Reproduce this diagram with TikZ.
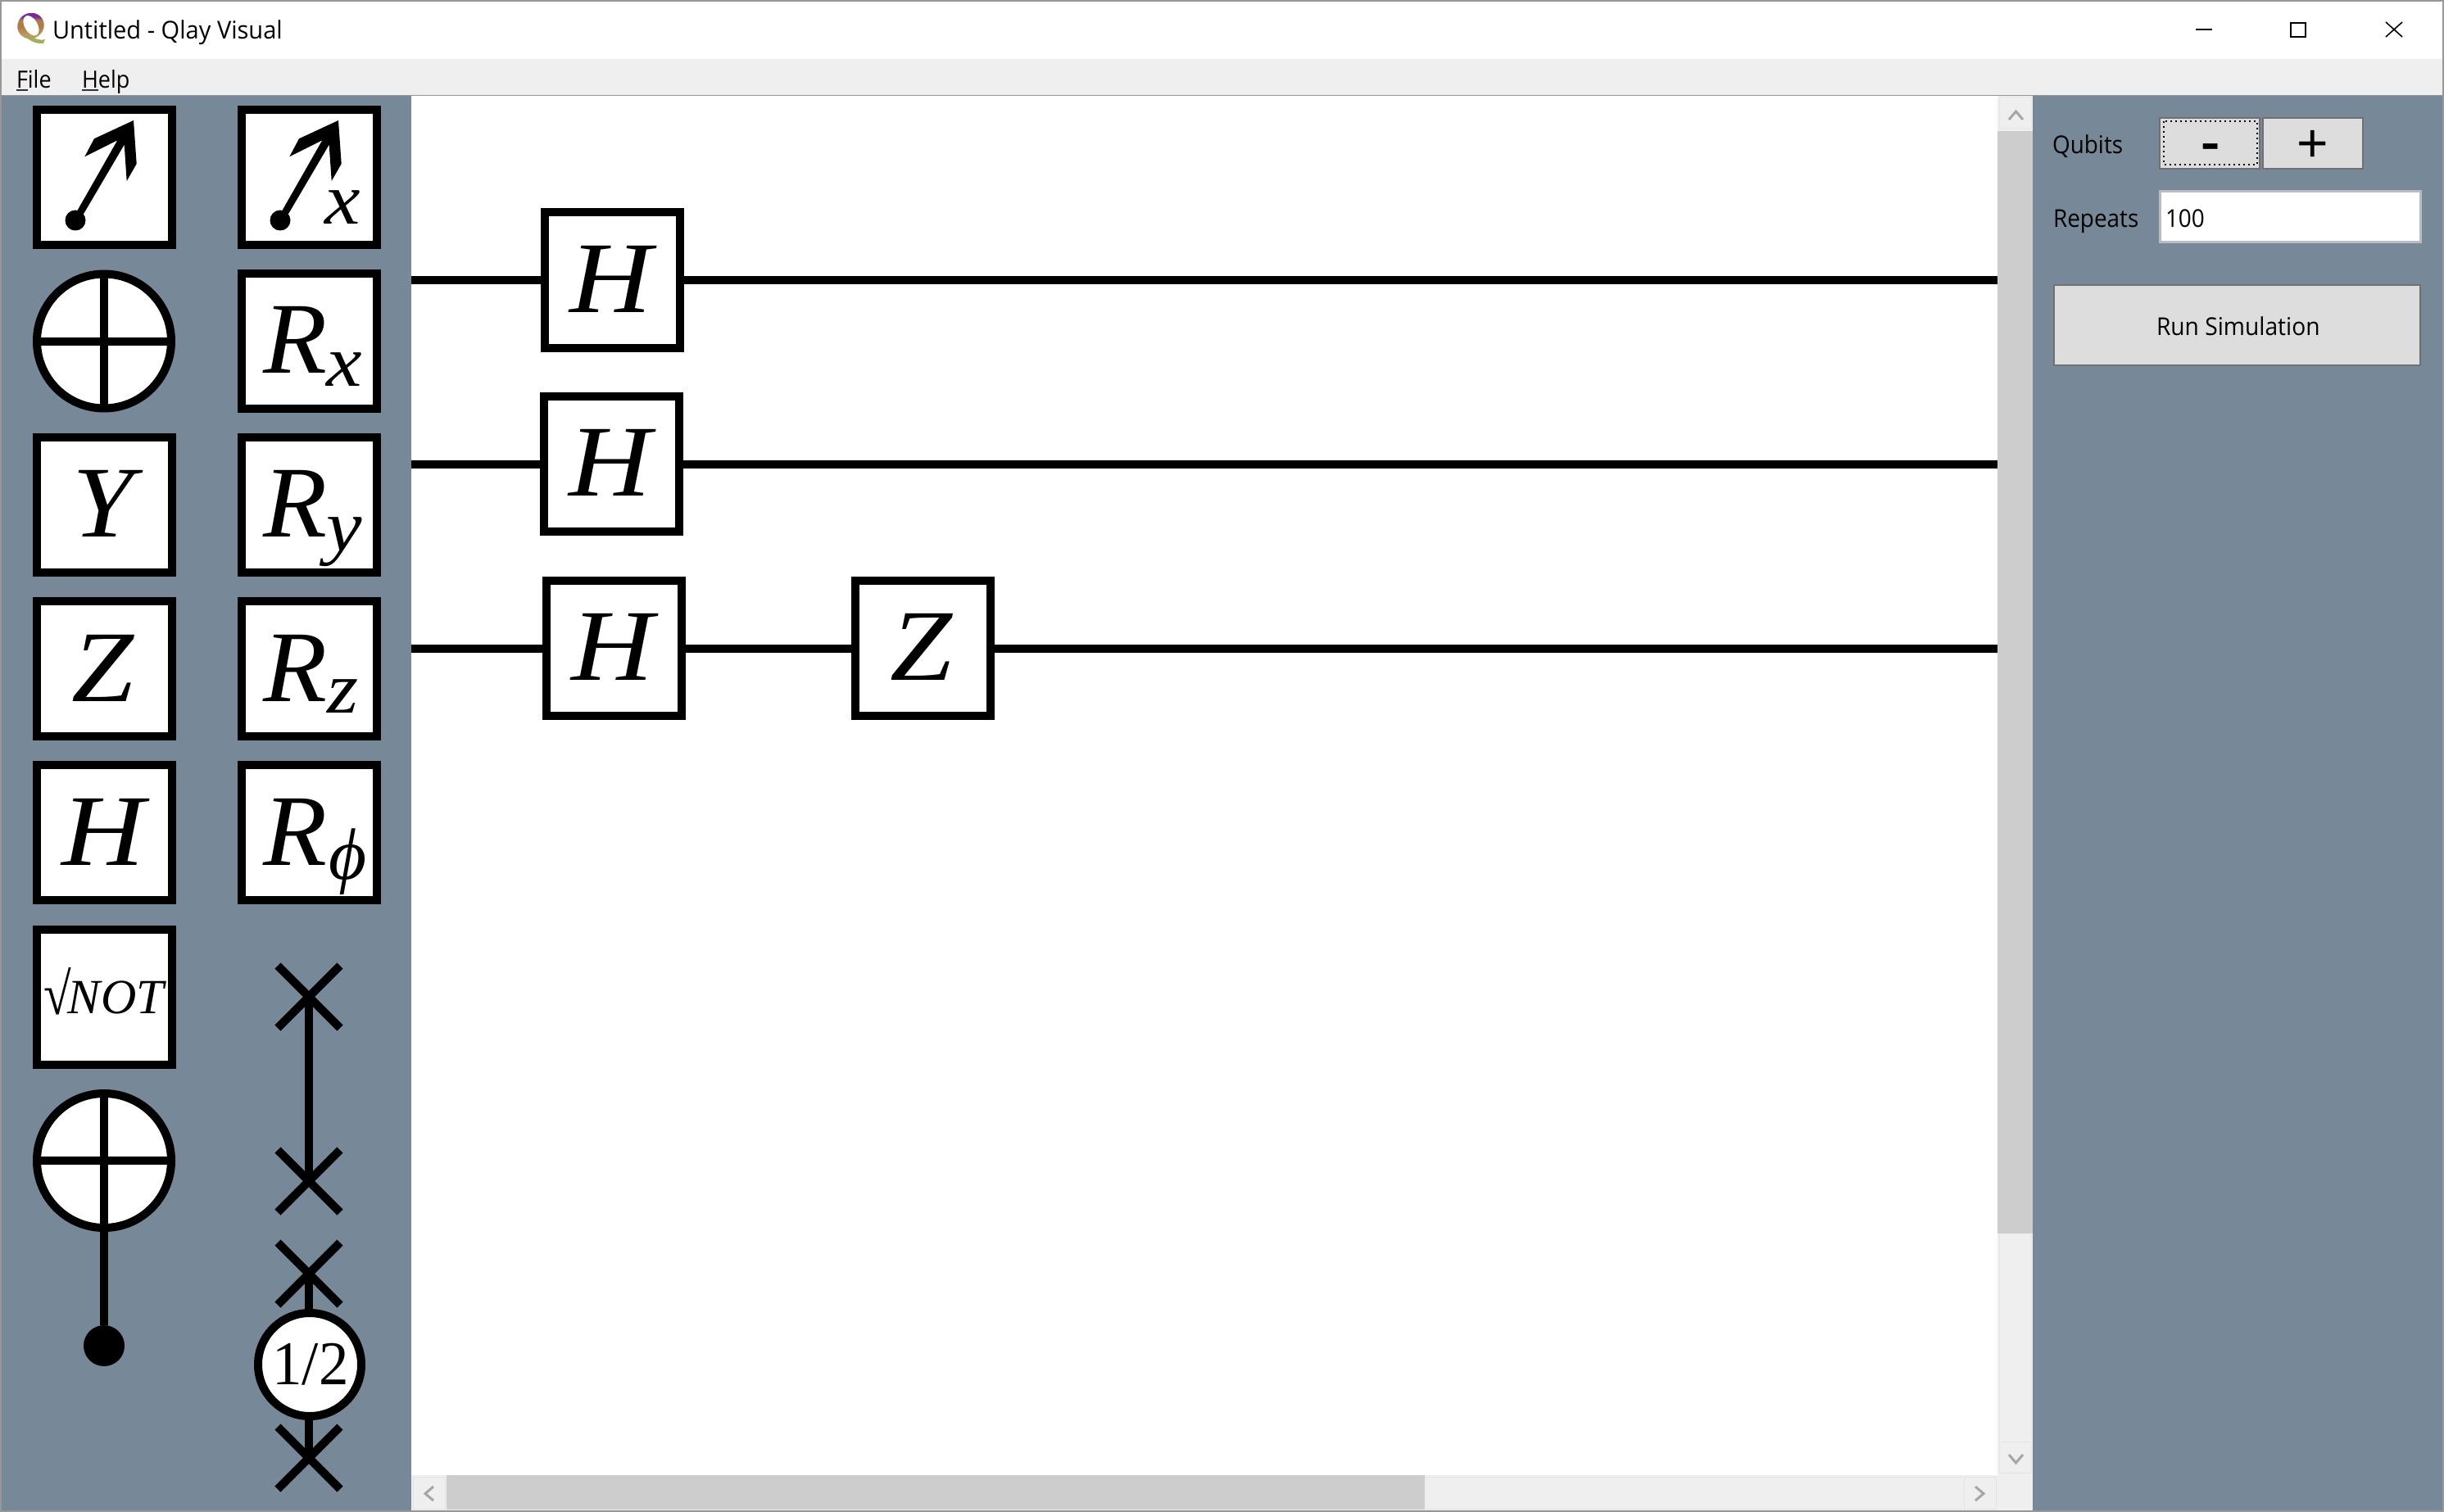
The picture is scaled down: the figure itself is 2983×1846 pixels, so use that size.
\documentclass[tikz,border=0pt]{standalone}
\usepackage{fontspec}
\setmainfont{Liberation Serif}
\newfontfamily\uifont{Open Sans}
\newfontfamily\symfont{Liberation Sans}
\definecolor{panel}{HTML}{778899}
\definecolor{menubar}{HTML}{EFEFEF}
\definecolor{winborder}{HTML}{979797}
\definecolor{thumb}{HTML}{CDCDCD}
\definecolor{sbline}{HTML}{E4E4E4}
\definecolor{sbarrow}{HTML}{A6A6A6}
\definecolor{btn}{HTML}{DDDDDD}
\definecolor{btnline}{HTML}{707070}
\definecolor{editline}{HTML}{B8BCC4}
\definecolor{qa}{HTML}{A0B060}
\definecolor{qb}{HTML}{B89A60}
\definecolor{qc}{HTML}{B07A45}
\definecolor{qd}{HTML}{A88050}
\definecolor{qe}{HTML}{7A2A95}
\pgfdeclareverticalshading{qgrad}{100bp}{
 color(0bp)=(qa); color(36bp)=(qb); color(50bp)=(qc);
 color(62bp)=(qd); color(68bp)=(qe); color(100bp)=(qe)}
\tikzset{
 x=0.5pt,y=-0.5pt,
 gatebox/.style={draw=black,fill=white,line width=5pt,rectangle,inner sep=0pt,outer sep=0pt,minimum size=82.5pt},
 roundgate/.style={draw=black,fill=white,line width=5pt,circle,inner sep=0pt,outer sep=0pt,minimum size=82pt},
 gatetext/.style={inner sep=0pt,outer sep=0pt,anchor=base,font=\fontsize{62pt}{62pt}\selectfont\itshape},
 rtext/.style={gatetext,anchor=base west,xscale=1.03},
 subtext/.style={inner sep=0pt,outer sep=0pt,anchor=base west,xscale=1.1,font=\fontsize{44.5pt}{44.5pt}\selectfont\itshape},
 wire/.style={draw=black,line width=5pt},
 uitext/.style={inner sep=0pt,outer sep=0pt,anchor=base west,font=\fontsize{15pt}{15pt}\selectfont\uifont,xscale=0.93},
 menutext/.style={uitext,font=\fontsize{14.5pt}{14.5pt}\selectfont\uifont},
 winbtn/.style={draw=black,line width=1pt},
 uibutton/.style={draw=btnline,fill=btn,line width=1pt},
 sbbutton/.style={draw=sbline,fill=menubar,line width=0.5pt},
 chevron/.style={draw=sbarrow,line width=1.5pt},
 swapx/.style={draw=black,line width=5pt},
}
\newcommand{\measglyph}[1]{%
 \fill[black] (#1+163,147) -- (#1+166.7,200) -- (#1+154.7,221) -- (#1+151.7,176.7) -- (#1+101.7,261.7)
  -- (#1+94.3,257.3) -- (#1+143.3,171.3) -- (#1+103.3,191.3) -- (#1+115,169.3) -- cycle;
 \fill[black] (#1+92,269) circle (12.5);}
\newcommand{\crossat}[2]{%
 \draw[swapx] (#1-38,#2-38) -- (#1+38,#2+38) (#1-38,#2+38) -- (#1+38,#2-38);}
\begin{document}
\begin{tikzpicture}
\useasboundingbox (0,0) rectangle (2983,1846);
% window
\fill[winborder] (0,0) rectangle (2983,1846);
\fill[white] (2,2) rectangle (2981,72);
\fill[menubar] (2,72) rectangle (2981,116);
\fill[panel] (2,117) rectangle (502,1844);
\fill[panel] (2481,117) rectangle (2981,1844);
\fill[white] (502,117) rectangle (2438,1801);
\fill[menubar] (502,1801) rectangle (2481,1844);
\fill[menubar] (2438,117) rectangle (2481,1844);
% logo
\fill[qa] (28,44) .. controls (35,47) and (40,54) .. (53,53) -- (55,48) .. controls (47,50) and (43,47) .. (39,44) -- cycle;
\shade[shading=qgrad,even odd rule,rotate around={30:(37.5,31.5)}]
  (37.5,31.5) ellipse [x radius=16.5,y radius=15.5]
  (38,31.5) ellipse [x radius=8,y radius=13.5];
% title and menu
\node[uitext,xscale=1.041] (title) at (64,48) {Untitled - Qlay Visual};
\node[menutext] (mfile) at (20,108) {File};
\node[menutext] (mhelp) at (100,108) {Help};
\draw[black!80,line width=1pt] (20,110.5) -- (34,110.5) (100,110.5) -- (120,110.5);
% window controls
\draw[winbtn] (2680,36) -- (2700,36);
\draw[winbtn] (2796,28) rectangle (2814,45);
\draw[black,line width=0.8pt] (2912,27) -- (2932,45) (2912,45) -- (2932,27);
% scrollbars
\fill[thumb] (2438,160) rectangle (2481,1506);
\draw[sbbutton] (2440,119) rectangle (2479,157);
\draw[chevron] (2452,146) -- (2460.5,136) -- (2469,146);
\draw[sbline,line width=0.5pt] (2440,1506) -- (2440,1758) (2479,1506) -- (2479,1758);
\draw[sbbutton] (2440,1760) rectangle (2479,1798);
\draw[chevron] (2452,1776) -- (2460.5,1786) -- (2469,1776);
\draw[sbbutton] (504,1803) rectangle (543,1842);
\draw[chevron] (529,1815) -- (519,1823.5) -- (529,1832);
\fill[thumb] (545,1801) rectangle (1739,1843);
\draw[sbline,line width=0.5pt] (1739,1803) -- (2395,1803) (1739,1842) -- (2395,1842);
\draw[sbbutton] (2397,1803) rectangle (2436,1842);
\draw[chevron] (2411,1815) -- (2421,1823.5) -- (2411,1832);
% wires
\coordinate (w1l) at (502,342); \coordinate (w1r) at (2438,342);
\coordinate (w2l) at (502,566.5); \coordinate (w2r) at (2438,566.5);
\coordinate (w3l) at (502,791.5); \coordinate (w3r) at (2438,791.5);
\node[gatebox] (h1) at (747,342) {};
\node[gatebox] (h2) at (746,566.5) {};
\node[gatebox] (h3) at (749,791.5) {};
\node[gatebox] (z3) at (1126,791.5) {};
\draw[wire] (w1l) -- (h1) (h1) -- (w1r);
\draw[wire] (w2l) -- (h2) (h2) -- (w2r);
\draw[wire] (w3l) -- (h3) (h3) -- (z3) (z3) -- (w3r);
\node[gatetext,xscale=1.12] (th1) at (746,381) {H};
\node[gatetext,xscale=1.12] (th2) at (745,605.5) {H};
\node[gatetext,xscale=1.12] (th3) at (748,830.5) {H};
\node[gatetext,xscale=1.1] (tz3) at (1124,830.5) {Z};
% palette column 1
\node[gatebox] (meas) at (127,216.5) {};
\measglyph{0}
\node[roundgate] (xgate) at (127,416.5) {};
\draw[wire] (xgate.north) -- (xgate.south) (xgate.west) -- (xgate.east);
\node[gatebox] (ygate) at (127,616.5) {};
\node[gatetext,xscale=1.08] (ty) at (126,655) {Y};
\node[gatebox] (zgate) at (127,816.5) {};
\node[gatetext,xscale=1.1] (tz) at (125,856) {Z};
\node[gatebox] (hgate) at (127,1016.5) {};
\node[gatetext,xscale=1.13] (th) at (126,1056) {H};
\node[gatebox] (sqnot) at (127,1217) {};
\node[inner sep=0pt,outer sep=0pt,anchor=base west,xscale=0.85,font=\fontsize{36pt}{36pt}\selectfont] (troot) at (54,1238) {√};
\node[inner sep=0pt,outer sep=0pt,anchor=base west,font=\fontsize{30pt}{30pt}\selectfont\itshape] (tnot) at (83,1237) {NOT};
\node[roundgate] (cnot) at (127,1417) {};
\node[circle,fill=black,inner sep=0pt,outer sep=0pt,minimum size=25pt] (ctrl) at (127,1643) {};
\draw[wire] (cnot.north) -- (ctrl) (cnot.west) -- (cnot.east);
% palette column 2
\node[gatebox] (measx) at (377,216.5) {};
\measglyph{250}
\node[subtext] (tmx) at (396,274) {x};
\node[gatebox] (rx) at (377,416.5) {};
\node[rtext] (trx) at (321,455) {R};
\node[subtext] (tsx) at (398,471) {x};
\node[gatebox] (ry) at (377,616.5) {};
\node[rtext] (try) at (321,655) {R};
\node[subtext] (tsy) at (398,672) {y};
\node[gatebox] (rz) at (377,816.5) {};
\node[rtext] (trz) at (321,856) {R};
\node[subtext] (tsz) at (399,870) {z};
\node[gatebox] (rp) at (377,1016.5) {};
\node[rtext] (trp) at (321,1056) {R};
\node[subtext,xscale=0.91] (tsp) at (401,1073) {ϕ};
% swap
\coordinate (sa) at (377,1217); \coordinate (sb) at (377,1442);
\draw[wire] (sa) -- (sb);
\crossat{377}{1217}
\crossat{377}{1442}
% sqrt swap
\coordinate (sc) at (377,1555); \coordinate (sd) at (377,1780);
\draw[wire] (sc) -- (sd);
\crossat{377}{1555}
\crossat{377}{1780}
\node[roundgate,minimum size=63pt] (half) at (378,1666) {};
\node[inner sep=0pt,outer sep=0pt,anchor=base,xscale=0.96,font=\fontsize{38pt}{38pt}\selectfont] (thalf) at (379,1690) {1/2};
% right panel
\node[uitext] (lq) at (2505,188) {Qubits};
\node[uibutton,minimum width=61pt,minimum height=31pt,inner sep=0pt,outer sep=0pt] (bminus) at (2697,175) {};
\draw[black,line width=1pt,dotted] (2640.5,148) rectangle (2754.5,201);
\node[inner sep=0pt,outer sep=0pt,anchor=base,font=\fontsize{28pt}{28pt}\selectfont\symfont\bfseries,xscale=1.25] (tminus) at (2698,194) {-};
\node[uibutton,minimum width=61pt,minimum height=31pt,inner sep=0pt,outer sep=0pt] (bplus) at (2822.5,175) {};
\node[inner sep=0pt,outer sep=0pt,anchor=base,font=\fontsize{33pt}{33pt}\selectfont\symfont] (tplus) at (2822.5,198) {+};
\node[uitext] (lr) at (2506,278) {Repeats};
\node[draw=editline,fill=white,line width=1.25pt,minimum width=159pt,minimum height=31pt,inner sep=0pt,outer sep=0pt] (edit) at (2795.5,264.5) {};
\node[uitext] (t100) at (2643,278) {100};
\node[uibutton,line width=1.25pt,minimum width=223.5pt,minimum height=49pt,inner sep=0pt,outer sep=0pt] (run) at (2730.5,397) {};
\node[uitext,xscale=1.01] (trun) at (2632,409) {Run Simulation};
\end{tikzpicture}
\end{document}
